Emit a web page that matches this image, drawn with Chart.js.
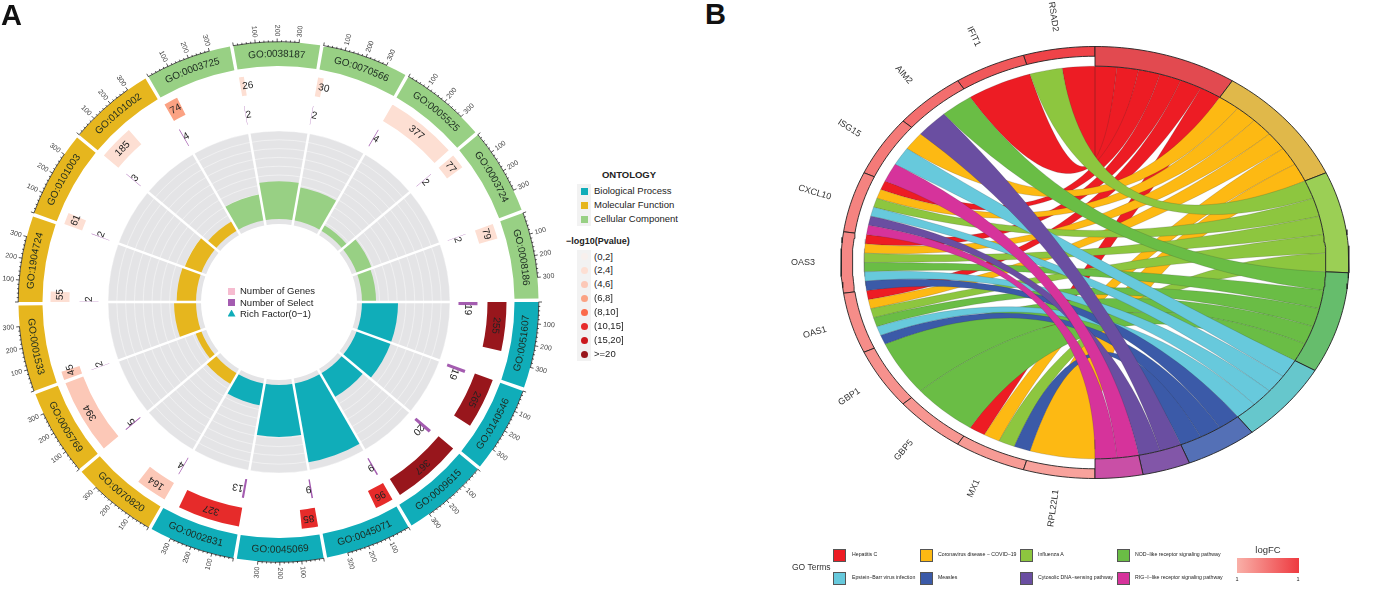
<!DOCTYPE html>
<html>
<head>
<meta charset="utf-8">
<title>GO circle and chord plot</title>
<script src="https://cdn.jsdelivr.net/npm/chart.js@4"></script>
<style>
  html, body { margin: 0; padding: 0; background: #fff; overflow: hidden; }
  #page { position: relative; width: 1373px; height: 590px; overflow: hidden; font-family: "Liberation Sans", Arial, sans-serif; color: #222; }
  canvas { position: absolute; }
  .txt { position: absolute; white-space: nowrap; line-height: 1; transform: translateY(-50%); }
  .box { position: absolute; }
</style>
</head>
<body>
<div id="page">
  <canvas id="richChart" width="344" height="344" style="left:106.5px;top:130px"></canvas>
  <canvas id="ringChart" width="557" height="604" style="left:0;top:0"></canvas>
  <canvas id="chordChart" width="593" height="590" style="left:780px;top:0"></canvas>
</div>

<script>
// ==== Panel A data (clockwise from 3 o'clock) ====
const goTerms = [
  "GO:0051607", "GO:0140546", "GO:0009615", "GO:0045071", "GO:0045069", "GO:0002831",
  "GO:0070820", "GO:0005769", "GO:0001533", "GO:1904724", "GO:0101003", "GO:0101002",
  "GO:0003725", "GO:0038187", "GO:0070566", "GO:0005525", "GO:0003724", "GO:0008186"
];
const ontologyOfTerm = [0, 0, 0, 0, 0, 0, 1, 1, 1, 1, 1, 1, 2, 2, 2, 2, 2, 2];
const geneCounts   = [255, 265, 367, 96, 85, 327, 164, 394, 45, 55, 61, 185, 74, 26, 30, 377, 77, 79];
const selectCounts = [19, 19, 20, 9, 9, 13, 4, 5, 2, 2, 2, 3, 4, 2, 2, 4, 2, 2];
const pvalueBins   = [7, 7, 7, 5, 5, 5, 2, 2, 2, 1, 1, 1, 3, 1, 1, 1, 1, 1];
const richFactors  = [0.41, 0.41, 0.31, 0.91, 0.59, 0.25, 0.14, 0.07, 0.25, 0.22, 0.20, 0.12, 0.30, 0.43, 0.38, 0.07, 0.18, 0.16];
const axisTicks    = [100, 200, 300];

const ontologyNames  = ["Biological Process", "Molecular Function", "Cellular Component"];
const ontologyColors = ["#10adb9", "#e6b61e", "#98d084"];
const pvalueLabels   = ["(0,2]", "(2,4]", "(4,6]", "(6,8]", "(8,10]", "(10,15]", "(15,20]", ">=20"];
const pvalueColors   = ["#f8f0ed", "#fddfd3", "#fcc8b7", "#fba283", "#fb6a4a", "#e62b2a", "#cb181d", "#98161c"];

// ==== Panel B data (genes run counter-clockwise from the top, terms clockwise) ====
const geneNames = ["RSAD2", "IFIT1", "AIM2", "ISG15", "CXCL10", "OAS3", "OAS1", "GBP1", "GBP5", "MX1", "RPL22L1"];
const geneLogFC = [0.92, 0.75, 0.56, 0.46, 0.38, 0.34, 0.3, 0.26, 0.22, 0.18, 0.12];
const termNames = [
  "Hepatitis C", "Coronavirus disease − COVID−19", "Influenza A", "NOD−like receptor signaling pathway",
  "Epstein−Barr virus infection", "Measles", "Cytosolic DNA−sensing pathway", "RIG−I−like receptor signaling pathway"
];
const termColors = ["#ed1c24", "#fdb913", "#8dc63f", "#6abd45", "#67c9dc", "#3b5aa8", "#6a4ea1", "#d6339b"];
const termBandColors = ["#e24a50", "#e0b84a", "#9bcf55", "#66bd6c", "#66c7cc", "#5470b6", "#8256a8", "#c94fa6"];
const geneTerms = [[0, 2], [0], [3, 6], [1, 4, 7], [0, 1, 2, 4, 6, 7], [0, 1, 2, 3, 4, 5], [0, 1, 2, 3, 4, 5], [3], [3], [0, 1, 2, 5], [1]];

// ==== Layout ====
const SECTOR_UNITS = 412;   // x range of a sector including the gap
const BAND_UNITS = 396;
const RICH_MIN = -0.943;    // r axis minimum, keeps the hole in the middle
const RICH_HOLE = -0.057;   // grey ring starts a little inside the bars
const BAND_R_GENE = 0.955;
const RIBBON_R = 0.909;
const FONT = '"Liberation Sans", Arial, sans-serif';

Chart.defaults.animation = false;
Chart.defaults.events = [];
Chart.defaults.plugins.legend.display = false;
Chart.defaults.plugins.tooltip.enabled = false;

// ==== Rich factor: polar area, grey background dataset under the coloured one ====
const richPlugin = {
  id: "richPlugin",
  afterDatasetsUpdate(chart) {
    const r = chart.scales.r;
    chart.getDatasetMeta(0).data.forEach(a => { a.innerRadius = r.getDistanceFromCenterForValue(0); });
    chart.getDatasetMeta(1).data.forEach(a => { a.innerRadius = r.getDistanceFromCenterForValue(RICH_HOLE); });
  },
  // white rings on the grey part only
  beforeDatasetDraw(chart, args) {
    if (args.index !== 0) return;
    const r = chart.scales.r, ctx = chart.ctx;
    ctx.save();
    ctx.strokeStyle = "rgba(255,255,255,0.55)";
    ctx.lineWidth = 0.8;
    for (let v = 0.1; v < 1; v += 0.1) {
      ctx.beginPath();
      ctx.arc(r.xCenter, r.yCenter, r.getDistanceFromCenterForValue(v), 0, Math.PI * 2);
      ctx.stroke();
    }
    ctx.restore();
  },
  // white gaps between the sectors
  afterDatasetDraw(chart, args) {
    if (args.index !== 0) return;
    const r = chart.scales.r, ctx = chart.ctx;
    ctx.save();
    ctx.strokeStyle = "#fff";
    ctx.lineWidth = 2.5;
    chart.getDatasetMeta(1).data.forEach(a => {
      const c = Math.cos(a.startAngle), s = Math.sin(a.startAngle);
      ctx.beginPath();
      ctx.moveTo(r.xCenter + c * (a.innerRadius - 1), r.yCenter + s * (a.innerRadius - 1));
      ctx.lineTo(r.xCenter + c * (a.outerRadius + 1), r.yCenter + s * (a.outerRadius + 1));
      ctx.stroke();
    });
    ctx.restore();
  }
};

new Chart(document.getElementById("richChart"), {
  type: "polarArea",
  data: {
    labels: goTerms,
    datasets: [
      { data: richFactors, backgroundColor: ontologyOfTerm.map(o => ontologyColors[o]), borderWidth: 0 },
      { data: goTerms.map(() => 1), backgroundColor: "#e4e4e6", borderWidth: 0 }
    ]
  },
  options: {
    responsive: false,
    layout: { padding: 1 },
    scales: { r: { display: false, min: RICH_MIN, max: 1, startAngle: 90 } }
  },
  plugins: [richPlugin]
});

// ==== Outer rings: doughnut, first dataset is the outermost ring ====
function ringValues(values) {
  return values.flatMap(v => [v, SECTOR_UNITS - v]);
}
function ringColors(colors) {
  return colors.flatMap(c => [c, "transparent"]);
}

function drawBandText(ctx, name, arc, mid) {
  const r = (arc.innerRadius + arc.outerRadius) / 2;
  const upright = Math.sin(mid) < 0;
  const total = ctx.measureText(name).width;
  let offset = -total / 2;
  for (const ch of name) {
    const w = ctx.measureText(ch).width;
    const d = (offset + w / 2) / r;
    const a = upright ? mid + d : mid - d;
    ctx.save();
    ctx.translate(arc.x + r * Math.cos(a), arc.y + r * Math.sin(a));
    ctx.rotate(upright ? a + Math.PI / 2 : a - Math.PI / 2);
    ctx.fillText(ch, 0, 0);
    ctx.restore();
    offset += w;
  }
}

function drawValueLabel(ctx, text, x, y, a) {
  ctx.save();
  ctx.translate(x, y);
  ctx.rotate(a + Math.PI / 2);
  ctx.fillText(text, 0, 0);
  ctx.restore();
}

const ringTextPlugin = {
  id: "ringTextPlugin",
  afterDatasetsDraw(chart) {
    const ctx = chart.ctx;
    const bandArcs = chart.getDatasetMeta(0).data;
    const geneArcs = chart.getDatasetMeta(2).data;
    const selectArcs = chart.getDatasetMeta(4).data;
    ctx.save();
    goTerms.forEach((name, i) => {
      const band = bandArcs[i * 2];
      const perUnit = (band.endAngle - band.startAngle) / BAND_UNITS;
      const R = band.outerRadius;
      const start = band.startAngle;
      const { x, y } = band;

      // axis line + ticks
      ctx.strokeStyle = "#111";
      ctx.lineWidth = 0.7;
      ctx.beginPath();
      ctx.arc(x, y, R + 0.3, start, start + 300 * perUnit);
      ctx.stroke();
      for (let u = 0; u <= 300; u += 20) {
        const a = start + u * perUnit, len = u % 100 === 0 ? 3.5 : 1.8;
        ctx.beginPath();
        ctx.moveTo(x + R * Math.cos(a), y + R * Math.sin(a));
        ctx.lineTo(x + (R + len) * Math.cos(a), y + (R + len) * Math.sin(a));
        ctx.stroke();
      }
      ctx.fillStyle = "#444";
      ctx.font = "7px " + FONT;
      ctx.textBaseline = "middle";
      axisTicks.forEach(t => {
        const a = start + t * perUnit;
        const right = Math.cos(a) >= 0;
        ctx.save();
        ctx.translate(x + (R + 5.5) * Math.cos(a), y + (R + 5.5) * Math.sin(a));
        ctx.rotate(right ? a : a + Math.PI);
        ctx.textAlign = right ? "left" : "right";
        ctx.fillText(String(t), 0, 0);
        ctx.restore();
      });

      // GO id along the band
      ctx.fillStyle = "#1c2a20";
      ctx.font = "10px " + FONT;
      ctx.textAlign = "center";
      drawBandText(ctx, name, band, start + perUnit * BAND_UNITS / 2);

      // value labels
      ctx.fillStyle = "#222";
      ctx.font = "10px " + FONT;
      const g = geneCounts[i];
      const gA = start + Math.max(g / 2, 40) * perUnit;
      const gR = (geneArcs[i * 2].innerRadius + geneArcs[i * 2].outerRadius) / 2;
      drawValueLabel(ctx, String(g), x + gR * Math.cos(gA), y + gR * Math.sin(gA), gA);
      const s = selectCounts[i];
      const sA = start + (s < 10 ? 18 : 48) * perUnit;
      const sR = (selectArcs[i * 2].innerRadius + selectArcs[i * 2].outerRadius) / 2;
      drawValueLabel(ctx, String(s), x + sR * Math.cos(sA), y + sR * Math.sin(sA), sA);
    });
    ctx.restore();
  }
};

new Chart(document.getElementById("ringChart"), {
  type: "doughnut",
  data: {
    labels: goTerms.flatMap(t => [t, ""]),
    datasets: [
      { data: goTerms.flatMap(() => [BAND_UNITS, SECTOR_UNITS - BAND_UNITS]), backgroundColor: ringColors(ontologyOfTerm.map(o => ontologyColors[o])), weight: 24 },
      { data: [1], backgroundColor: "transparent", weight: 8 },
      { data: ringValues(geneCounts), backgroundColor: ringColors(pvalueBins.map(b => pvalueColors[b])), weight: 19 },
      { data: [1], backgroundColor: "transparent", weight: 10 },
      { data: ringValues(selectCounts), backgroundColor: ringColors(goTerms.map(() => "#a45cb0")), weight: 19 }
    ]
  },
  options: {
    responsive: false,
    rotation: 90,
    cutout: 180,
    hoverOffset: 0,
    borderWidth: 0,
    layout: { padding: { left: 18.5, right: 18.5, top: 42, bottom: 42 } }
  },
  plugins: [ringTextPlugin]
});

// ==== Chord: closed line datasets on two linear scales (the circle is squeezed to an ellipse) ====
const CX = 1095, CY = 262.5, RX = 254, RY = 216, CANVAS_LEFT = 780, CANVAS_W = 593, CANVAS_H = 590;

function geneTheta(deg, r) {   // left side
  const t = deg * Math.PI / 180;
  return { x: -r * Math.sin(t), y: r * Math.cos(t) };
}
function termTheta(deg, r) {   // right side
  const t = deg * Math.PI / 180;
  return { x: r * Math.sin(t), y: r * Math.cos(t) };
}
function arcPoints(fn, from, to, r) {
  const pts = [];
  const n = Math.max(2, Math.ceil(Math.abs(to - from) / 1.5));
  for (let i = 0; i <= n; i++) pts.push(fn(from + (to - from) * i / n, r));
  return pts;
}
function curvePoints(p0, p1) {   // quadratic curve pulled through the centre
  const pts = [];
  for (let i = 1; i < 40; i++) {
    const t = i / 40, k0 = (1 - t) * (1 - t), k1 = t * t;
    pts.push({ x: k0 * p0.x + k1 * p1.x, y: k0 * p0.y + k1 * p1.y });
  }
  return pts;
}
function polygon(points, fill, border, width) {
  return {
    data: points.concat([points[0]]),
    showLine: true,
    fill: "shape",
    backgroundColor: fill,
    borderColor: border,
    borderWidth: width,
    pointRadius: 0,
    tension: 0,
    clip: false
  };
}
function geneColor(v) {  // logFC gradient, light salmon to red
  const lo = [249, 176, 168], hi = [238, 58, 64];
  return "rgb(" + lo.map((c, i) => Math.round(c + (hi[i] - c) * v)).join(",") + ")";
}

const geneStep = 180 / geneNames.length;
const linkCount = geneTerms.reduce((n, g) => n + g.length, 0);
const termStep = 180 / linkCount;
const termCounts = termNames.map((_, t) => geneTerms.filter(g => g.includes(t)).length);
const termStart = termCounts.map((_, t) => termCounts.slice(0, t).reduce((a, b) => a + b, 0) * termStep);

// ribbons, grouped by term so later terms lie on top
const ribbonLayers = termNames.map(() => []);
const termUsed = termNames.map(() => 0);
geneTerms.forEach((terms, g) => {
  const w = geneStep / terms.length;
  terms.forEach((t, k) => {
    const g1 = g * geneStep + k * w, g2 = g1 + w;
    const t1 = termStart[t] + termUsed[t] * termStep, t2 = t1 + termStep;
    termUsed[t]++;
    const a = arcPoints(geneTheta, g1, g2, RIBBON_R);
    const b = arcPoints(termTheta, t2, t1, RIBBON_R);
    const pts = a.concat(curvePoints(a[a.length - 1], b[0]), b, curvePoints(b[b.length - 1], a[0]));
    ribbonLayers[t].push(polygon(pts, termColors[t], "rgba(40,40,40,0.35)", 0.5));
  });
});

const bandSets = [];
geneNames.forEach((_, g) => {
  const a = arcPoints(geneTheta, g * geneStep, (g + 1) * geneStep, 1);
  const b = arcPoints(geneTheta, (g + 1) * geneStep, g * geneStep, BAND_R_GENE);
  bandSets.push(polygon(a.concat(b), geneColor(geneLogFC[g]), "#222", 0.9));
});
termNames.forEach((_, t) => {
  const from = termStart[t], to = from + termCounts[t] * termStep;
  const a = arcPoints(termTheta, from, to, 1);
  const b = arcPoints(termTheta, to, from, RIBBON_R);
  bandSets.push(polygon(a.concat(b), termBandColors[t], "#222", 0.9));
});

// the first dataset is drawn last in Chart.js, so reverse the painting order
const chordSets = ribbonLayers.flat().concat(bandSets).reverse();

const geneLabelPlugin = {
  id: "geneLabelPlugin",
  afterDatasetsDraw(chart) {
    const { ctx, scales: { x, y } } = chart;
    ctx.save();
    ctx.font = "9px " + FONT;
    ctx.fillStyle = "#333";
    ctx.textAlign = "center";
    ctx.textBaseline = "middle";
    geneNames.forEach((name, g) => {
      const mid = (g + 0.5) * geneStep;
      const p = geneTheta(mid, 1.15);
      ctx.save();
      ctx.translate(x.getPixelForValue(p.x), y.getPixelForValue(p.y));
      ctx.rotate((90 - mid) * Math.PI / 180);
      ctx.fillText(name, 0, 0);
      ctx.restore();
    });
    ctx.restore();
  }
};

new Chart(document.getElementById("chordChart"), {
  type: "scatter",
  data: { datasets: chordSets },
  options: {
    responsive: false,
    scales: {
      x: { type: "linear", display: false, min: (CANVAS_LEFT - CX) / RX, max: (CANVAS_LEFT + CANVAS_W - CX) / RX },
      y: { type: "linear", display: false, min: (CY - CANVAS_H) / RY, max: CY / RY }
    }
  },
  plugins: [geneLabelPlugin]
});

// ==== Legends and panel letters (HTML) ====
const page = document.getElementById("page");
function addText(text, x, y, size, opts = {}) {
  const d = document.createElement("div");
  d.className = "txt";
  d.textContent = text;
  d.style.left = x + "px";
  d.style.top = y + "px";
  d.style.fontSize = size + "px";
  if (opts.bold) d.style.fontWeight = "bold";
  if (opts.color) d.style.color = opts.color;
  if (opts.center) d.style.transform = "translate(-50%,-50%)";
  page.appendChild(d);
}
function addBox(x, y, w, h, css) {
  const d = document.createElement("div");
  d.className = "box";
  d.style.cssText = `left:${x}px;top:${y}px;width:${w}px;height:${h}px;${css}`;
  page.appendChild(d);
}

addText("A", 1, 15, 29, { bold: true, color: "#111" });
addText("B", 705, 14, 29, { bold: true, color: "#111" });

// centre of panel A
addBox(228, 287.5, 7, 7, "background:#f6bcd0");
addBox(228, 298.5, 7, 7, "background:#a45cb0");
addBox(227.5, 309.5, 8, 7, "background:#10adb9;clip-path:polygon(50% 0,100% 100%,0 100%)");
addText("Number of Genes", 240, 291, 9.5);
addText("Number of Select", 240, 302.5, 9.5);
addText("Rich Factor(0−1)", 240, 313.5, 9.5);

// ontology
addText("ONTOLOGY", 629, 175, 9.5, { bold: true, center: true });
ontologyNames.forEach((name, i) => {
  const y = 191 + i * 14;
  addBox(577, y - 7, 14, 14, "background:#f2f2f2");
  addBox(581, y - 3.5, 7, 7, "background:" + ontologyColors[i]);
  addText(name, 594, y, 9.5);
});

// p value
addText("−log10(Pvalue)", 566, 241, 9, { bold: true });
pvalueLabels.forEach((label, i) => {
  const y = 256.5 + i * 13.93;
  addBox(577, y - 7, 14, 14, "background:#f2f2f2");
  addBox(581, y - 3.5, 7, 7, "border-radius:50%;background:" + pvalueColors[i]);
  addText(label, 594, y, 9.5);
});

// panel B legend
const legendColX = [833, 920, 1020, 1117];
const legendTextX = [852, 938, 1038, 1135];
const legendRowY = [555, 578];
addText("GO Terms", 792, 567, 8.5, { color: "#333" });
termNames.forEach((name, t) => {
  const col = t % 4, row = t < 4 ? 0 : 1;
  addBox(legendColX[col], legendRowY[row] - 6.5, 11, 11, `background:${termColors[t]};border:1px solid #555`);
  addText(name, legendTextX[col], legendRowY[row], 5.2, { color: "#222" });
});
addText("logFC", 1268, 550, 9.5, { center: true, color: "#333" });
addBox(1237, 558, 62, 15, "background:linear-gradient(to right,#f9b0a8,#ee3a40)");
addText("1", 1237, 580, 5.5, { center: true });
addText("1", 1298, 580, 5.5, { center: true });
</script>
</body>
</html>
